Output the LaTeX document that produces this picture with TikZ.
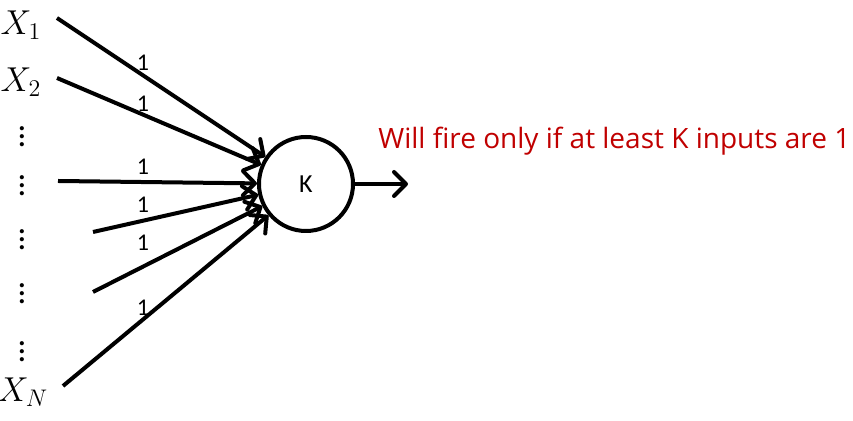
\documentclass[tikz,border=0pt]{standalone}
\usepackage{fontspec}
\setmainfont{Carlito}
\newfontfamily\notefont{Open Sans}
\usepackage{tikz}
\usetikzlibrary{arrows.meta}

\definecolor{notered}{RGB}{192,0,0}

\tikzset{
  neuron/.style={circle, draw, line width=2pt, minimum size=47pt, inner sep=0pt, font=\fontsize{13}{15}\selectfont},
  input/.style={line width=2pt, -{Straight Barb[length=6pt,width=12pt,round]}},
  weight/.style={font=\fontsize{12}{14}\selectfont, inner sep=0pt},
  varlabel/.style={font=\fontsize{17}{20}\selectfont, inner sep=0pt},
  dotlabel/.style={font=\LARGE, inner sep=0pt}
}

\begin{document}
\begin{tikzpicture}[x=0.5pt,y=-0.5pt]
  \useasboundingbox (0,0) rectangle (853,421);
  % Threshold unit
  \node[neuron] (k) at (306,184) {K};

  % Input lines with their weights
  \foreach \name/\x/\y/\ly in {a/57/18/63, b/57/78/104, c/58/181/167,
                               d/93/232/205, e/93/292/243, f/63/386/308} {
    \coordinate (in\name) at (\x,\y);
    \draw[input] (in\name) -- (k);
    \node[weight] (w\name) at (143,\ly) {1};
  }

  % Input names
  \node[varlabel] (x1) at (21,25) {$X_1$};
  \node[varlabel] (x2) at (21,82) {$X_2$};
  \node[varlabel] (xn) at (23,392) {$X_N$};
  \foreach \y [count=\i] in {131,180,234,288,346} {
    \node[dotlabel] (dots\i) at (22,\y) {$\vdots$};
  }

  % Output
  \coordinate (out) at (408,184);
  \draw[input] (k) -- (out);
  \node[anchor=west, text=notered, font=\notefont\fontsize{14}{17}\selectfont, inner sep=0pt] (note) at (378,141) {Will fire only if at least K inputs are 1};
\end{tikzpicture}
\end{document}
